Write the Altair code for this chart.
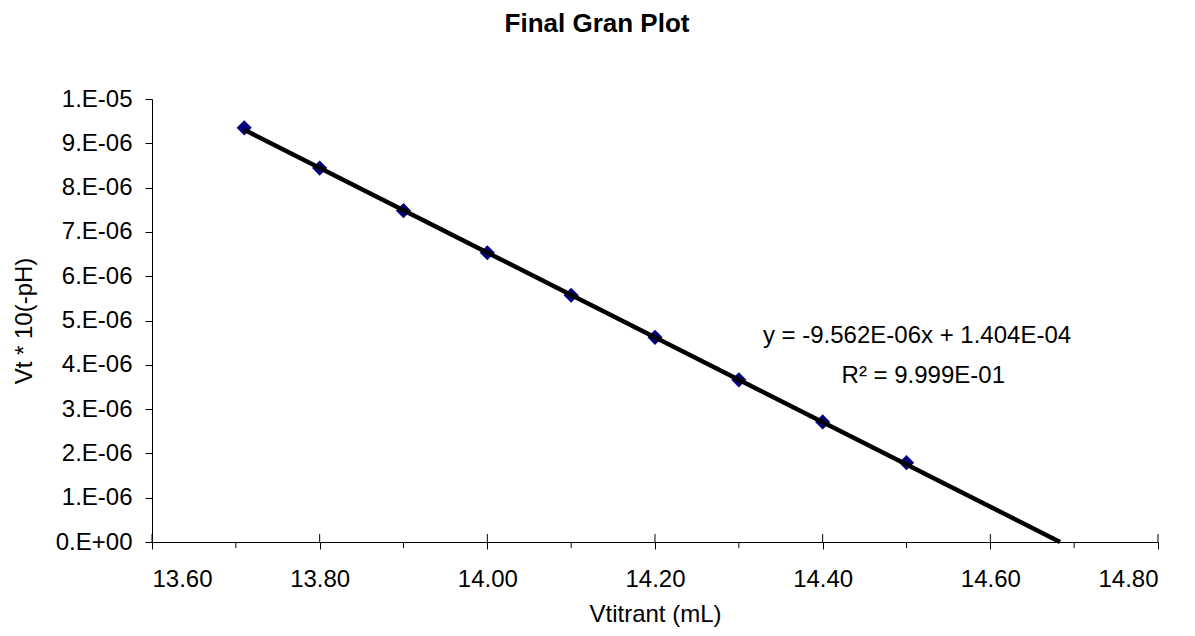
import altair as alt
import pandas as pd

# ---- data ----
x_vals = [13.71, 13.80, 13.90, 14.00, 14.10, 14.20, 14.30, 14.40, 14.50]
y_vals = [9.35e-6, 8.44e-6, 7.48e-6, 6.53e-6, 5.57e-6, 4.62e-6, 3.66e-6, 2.71e-6, 1.79e-6]
slope = -9.562e-06
intercept = 1.404e-04
trend_x = [13.71, -intercept / slope]
x_major = [13.6, 13.8, 14.0, 14.2, 14.4, 14.6, 14.8]
x_minor = [13.7, 13.9, 14.1, 14.3, 14.5, 14.7]
y_ticks = [i * 1e-6 for i in range(11)]
eq_lines = ["y = -9.562E-06x + 1.404E-04", "R\u00b2 = 9.999E-01"]
eq_x = [14.5125, 14.52]
eq_y = [4.49e-6, 3.596e-6]
chart_title = ["Final Gran Plot"]

FONT = "Liberation Sans"
W, H = 1006, 443

pts = pd.DataFrame({"x": x_vals, "y": y_vals})
trend = pd.DataFrame({"x": trend_x, "y": [slope * v + intercept for v in trend_x]})
major = pd.DataFrame({"x": x_major})
minor = pd.DataFrame({"x": x_minor})
eq = pd.DataFrame({"x": eq_x, "y": eq_y, "t": eq_lines})
ttl = pd.DataFrame({"t": chart_title})

x_axis = alt.Axis(values=x_major, format=".2f", labelFont=FONT, labelFontSize=24,
                  labelColor="black", tickSize=7, tickColor="black", domainColor="black",
                  grid=False, labelPadding=18, title="Vtitrant (mL)", titleFont=FONT,
                  titleFontSize=24, titleFontWeight="normal", titleColor="black",
                  titleY=79, titleBaseline="alphabetic", orient="bottom")
y_axis = alt.Axis(values=y_ticks,
                  labelExpr="datum.value < 5e-7 ? '0.E+00' : (round(datum.value*1e6) >= 10 ? '1.E-05' : round(datum.value*1e6) + '.E-06')",
                  labelFont=FONT, labelFontSize=24, labelColor="black", tickSize=7,
                  tickColor="black", domainColor="black", grid=False, labelPadding=13,
                  title="Vt * 10(-pH)", titleFont=FONT, titleFontSize=24,
                  titleFontWeight="normal", titleColor="black", titleX=-128, titleY=H / 2,
                  titleAngle=270, titleAlign="center", titleBaseline="middle", orient="left")

xs = alt.Scale(domain=[13.6, 14.8], nice=False, zero=False)
ys = alt.Scale(domain=[0, 1e-5], nice=False, zero=False)
X = alt.X("x:Q", scale=xs, axis=x_axis)
Y = alt.Y("y:Q", scale=ys, axis=y_axis)

points = alt.Chart(pts).mark_point(shape="diamond", filled=True, color="#000080",
                                   opacity=1, size=230).encode(x=X, y=Y)
line = alt.Chart(trend).mark_line(color="black", strokeWidth=4.5).encode(x=X, y=Y)
inner_ticks = alt.Chart(major).mark_rule(color="black", strokeWidth=1).encode(
    x=X, y=alt.value(H - 8), y2=alt.value(H))
minor_ticks = alt.Chart(minor).mark_rule(color="black", strokeWidth=1).encode(
    x=X, y=alt.value(H), y2=alt.value(H + 6))
text = alt.Chart(eq).mark_text(font=FONT, fontSize=24, color="black", align="center",
                               baseline="alphabetic").encode(x=X, y=Y, text="t:N")
title = alt.Chart(ttl).mark_text(font=FONT, fontSize=26, fontWeight="bold", color="black",
                                 align="center", baseline="alphabetic").encode(
    x=alt.value(445), y=alt.value(-67), text="t:N")

chart = alt.layer(points, line, inner_ticks, minor_ticks, text, title).properties(
    width=W, height=H,
    autosize=alt.AutoSizeParams(type="none"),
    padding={"left": 144, "top": 91, "right": 29, "bottom": 86},
    background="white",
).configure_view(stroke=None)

chart.save("out.html", embed_options={"renderer": "svg", "actions": False})
